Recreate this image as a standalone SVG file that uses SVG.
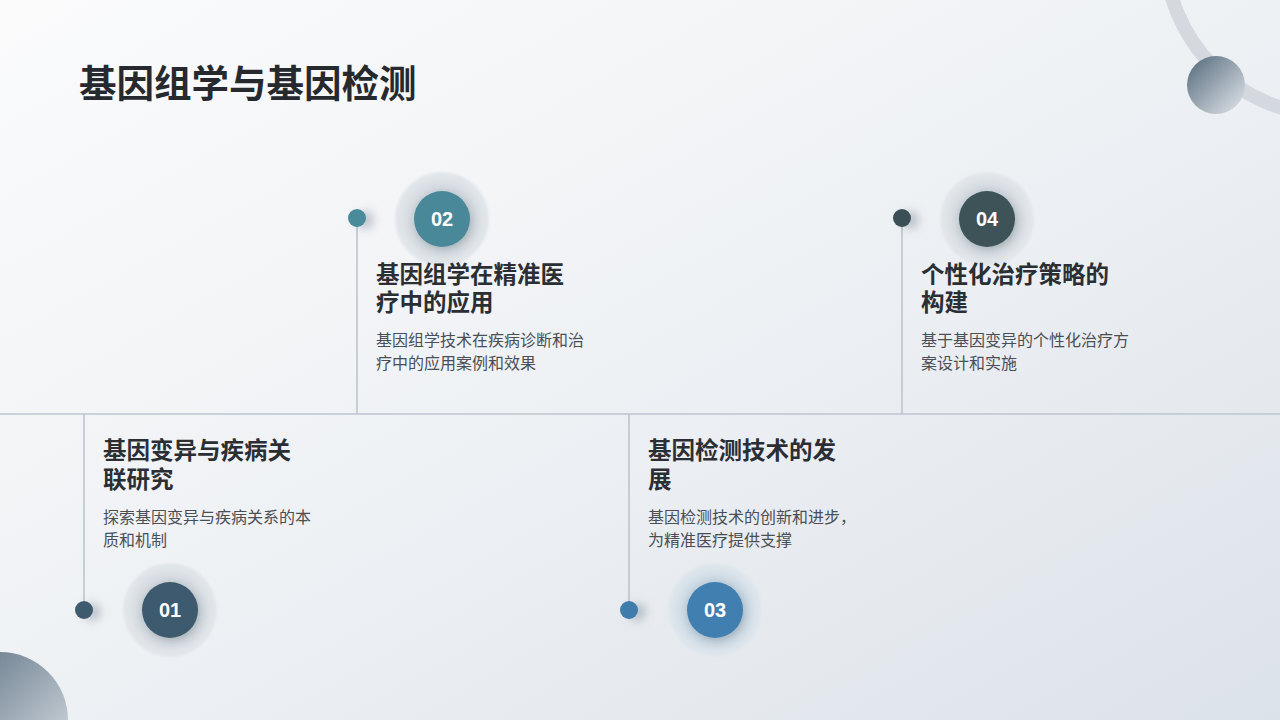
<svg xmlns="http://www.w3.org/2000/svg" width="1280" height="720" viewBox="0 0 1280 720">
<defs>
<linearGradient id="bg" x1="0" y1="0" x2="1" y2="1">
<stop offset="0" stop-color="#fbfbfc"/>
<stop offset="0.5" stop-color="#eef1f4"/>
<stop offset="1" stop-color="#dce2e9"/>
</linearGradient>
<linearGradient id="ball" x1="0" y1="0" x2="1" y2="1">
<stop offset="0" stop-color="#52687b"/>
<stop offset="1" stop-color="#e3e7eb"/>
</linearGradient>
<radialGradient id="halo" cx="0.5" cy="0.5" r="0.5">
<stop offset="0.55" stop-color="#cdd4da"/>
<stop offset="0.8" stop-color="#dbe0e5"/>
<stop offset="1" stop-color="#e4e8ec"/>
</radialGradient>
<radialGradient id="haloBlue" cx="0.5" cy="0.5" r="0.5">
<stop offset="0.55" stop-color="#c3d3e0"/>
<stop offset="0.8" stop-color="#d6e0e8"/>
<stop offset="1" stop-color="#e1e8ee"/>
</radialGradient>
<filter id="soft" x="-50%" y="-50%" width="200%" height="200%">
<feGaussianBlur stdDeviation="1.2"/>
</filter>
<filter id="dotShadow" x="-100%" y="-100%" width="400%" height="300%">
<feDropShadow dx="8" dy="2" stdDeviation="5" flood-color="#5a6a78" flood-opacity="0.35"/>
</filter>
<filter id="innerShadow" x="-50%" y="-50%" width="200%" height="200%">
<feDropShadow dx="2" dy="3" stdDeviation="4" flood-color="#33424f" flood-opacity="0.25"/>
</filter>
</defs>
<style>
.title{font-family:"Noto Sans CJK SC","Noto Sans",sans-serif;font-weight:700;font-size:37.5px;fill:#262a2e}
.h{font-family:"Noto Sans CJK SC","Noto Sans",sans-serif;font-weight:700;font-size:23.5px;fill:#2b2f33}
.d{font-family:"Noto Sans CJK SC","Noto Sans",sans-serif;font-size:16px;fill:#4a4f55}
.num{font-family:"Liberation Sans",Arial,sans-serif;font-weight:700;font-size:20px;fill:#ffffff}
.conn{stroke:#bcc5cf;stroke-width:1.6;fill:none}
</style>
<rect width="1280" height="720" fill="url(#bg)"/>
<circle cx="1330" cy="-50" r="165" fill="none" stroke="#d3d9df" stroke-width="14"/>
<circle cx="1216" cy="85" r="29" fill="url(#ball)"/>
<circle cx="0" cy="720" r="68" fill="url(#ball)"/>
<text class="title" x="79" y="97">基因组学与基因检测</text>
<g id="connectors">
<line class="conn" x1="0" y1="414" x2="1280" y2="414"/>
<line class="conn" x1="357" y1="218" x2="357" y2="414"/>
<line class="conn" x1="84" y1="414" x2="84" y2="610"/>
<line class="conn" x1="629" y1="414" x2="629" y2="610"/>
<line class="conn" x1="902" y1="218" x2="902" y2="414"/>
</g>
<g id="node01">
<circle cx="84" cy="610" r="9" fill="#3d5a6e" filter="url(#dotShadow)"/>
<circle cx="170" cy="610" r="47" fill="url(#halo)" filter="url(#soft)"/>
<circle cx="170" cy="610" r="28" fill="#3d5a6e" filter="url(#innerShadow)"/>
<text class="num" x="170" y="617" text-anchor="middle">01</text>
<text class="h" x="103" y="459">基因变异与疾病关<tspan x="103" y="488">联研究</tspan></text>
<text class="d" x="103" y="523">探索基因变异与疾病关系的本<tspan x="103" y="546">质和机制</tspan></text>
</g>
<g id="node02">
<circle cx="357" cy="218" r="9" fill="#4a8a9b" filter="url(#dotShadow)"/>
<circle cx="442" cy="219" r="47" fill="url(#halo)" filter="url(#soft)"/>
<circle cx="442" cy="219" r="28" fill="#4a8899" filter="url(#innerShadow)"/>
<text class="num" x="442" y="226" text-anchor="middle">02</text>
<text class="h" x="376" y="283">基因组学在精准医<tspan x="376" y="311">疗中的应用</tspan></text>
<text class="d" x="376" y="346">基因组学技术在疾病诊断和治<tspan x="376" y="369">疗中的应用案例和效果</tspan></text>
</g>
<g id="node03">
<circle cx="629" cy="610" r="9" fill="#3e7bab" filter="url(#dotShadow)"/>
<circle cx="715" cy="610" r="47" fill="url(#haloBlue)" filter="url(#soft)"/>
<circle cx="715" cy="610" r="28" fill="#3f7fb0" filter="url(#innerShadow)"/>
<text class="num" x="715" y="617" text-anchor="middle">03</text>
<text class="h" x="648" y="459">基因检测技术的发<tspan x="648" y="488">展</tspan></text>
<text class="d" x="648" y="523">基因检测技术的创新和进步，<tspan x="648" y="546">为精准医疗提供支撑</tspan></text>
</g>
<g id="node04">
<circle cx="902" cy="218" r="9" fill="#3b4f57" filter="url(#dotShadow)"/>
<circle cx="987" cy="219" r="47" fill="url(#halo)" filter="url(#soft)"/>
<circle cx="987" cy="219" r="28" fill="#3c5259" filter="url(#innerShadow)"/>
<text class="num" x="987" y="226" text-anchor="middle">04</text>
<text class="h" x="921" y="283">个性化治疗策略的<tspan x="921" y="311">构建</tspan></text>
<text class="d" x="921" y="346">基于基因变异的个性化治疗方<tspan x="921" y="369">案设计和实施</tspan></text>
</g>
</svg>
